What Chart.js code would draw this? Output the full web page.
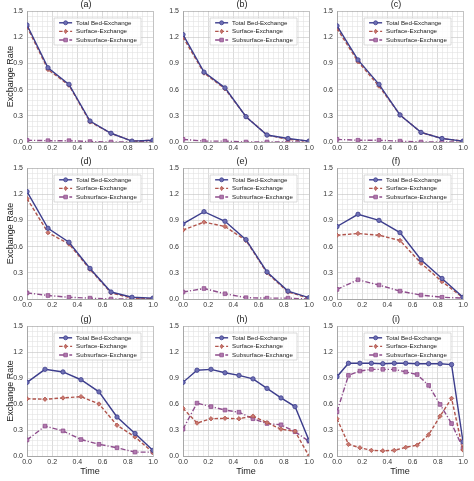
<!doctype html>
<html>
<head>
<meta charset="UTF-8">
<title>Exchange Rate</title>
<script src="https://cdn.jsdelivr.net/npm/chart.js"></script>
<style>
body { margin:0; background:#fff; width:474px; height:481px; overflow:hidden; position:relative; }
canvas { position:absolute; }
</style>
</head>
<body>
<canvas id="c0"></canvas><canvas id="c1"></canvas><canvas id="c2"></canvas>
<canvas id="c3"></canvas><canvas id="c4"></canvas><canvas id="c5"></canvas>
<canvas id="c6"></canvas><canvas id="c7"></canvas><canvas id="c8"></canvas>
<script>
// time steps (normalised)
var time7 = [0, 1/6, 2/6, 3/6, 4/6, 5/6, 1];
var time8 = [0, 1/7, 2/7, 3/7, 4/7, 5/7, 6/7, 1];
var time10 = [0, 1/9, 2/9, 3/9, 4/9, 5/9, 6/9, 7/9, 8/9, 1];
var time12 = [0, 1/11, 2/11, 3/11, 4/11, 5/11, 6/11, 7/11, 8/11, 9/11, 10/11, 1];

var seriesNames = ["Total Bed-Exchange", "Surface-Exchange", "Subsurface-Exchange"];
var panelTitles = ["(a)", "(b)", "(c)", "(d)", "(e)", "(f)", "(g)", "(h)", "(i)"];
var yTicks = [0.0, 0.3, 0.6, 0.9, 1.2, 1.5];
var xTicks = [0.0, 0.2, 0.4, 0.6, 0.8, 1.0];

var totalA = [1.34, 0.85, 0.66, 0.24, 0.10, 0.01, 0.02];
var surfaceA = [1.32, 0.83, 0.65, 0.23, 0.10, 0.01, 0.02];
var subsurfaceA = [0.02, 0.015, 0.015, 0.005, 0.00, 0.00, 0.01];

var totalB = [1.23, 0.80, 0.62, 0.29, 0.08, 0.04, 0.01];
var surfaceB = [1.20, 0.79, 0.61, 0.29, 0.08, 0.03, 0.01];
var subsurfaceB = [0.03, 0.01, 0.01, 0.00, 0.00, 0.00, 0.00];

var totalC = [1.33, 0.94, 0.66, 0.31, 0.11, 0.04, 0.01];
var surfaceC = [1.30, 0.92, 0.64, 0.31, 0.11, 0.04, 0.01];
var subsurfaceC = [0.03, 0.02, 0.02, 0.01, 0.00, 0.00, 0.00];

var totalD = [1.23, 0.81, 0.65, 0.35, 0.08, 0.02, 0.01];
var surfaceD = [1.15, 0.76, 0.63, 0.34, 0.07, 0.01, 0.00];
var subsurfaceD = [0.07, 0.04, 0.02, 0.01, 0.00, 0.00, 0.00];

var totalE = [0.86, 1.00, 0.89, 0.68, 0.31, 0.09, 0.015];
var surfaceE = [0.79, 0.88, 0.83, 0.67, 0.30, 0.08, 0.01];
var subsurfaceE = [0.08, 0.12, 0.06, 0.015, 0.01, 0.01, 0.00];

var totalF = [0.83, 0.97, 0.90, 0.76, 0.45, 0.235, 0.02];
var surfaceF = [0.73, 0.75, 0.73, 0.67, 0.41, 0.20, 0.015];
var subsurfaceF = [0.11, 0.22, 0.16, 0.09, 0.045, 0.02, 0.01];

var totalG = [0.85, 1.00, 0.97, 0.88, 0.74, 0.45, 0.26, 0.065];
var surfaceG = [0.66, 0.655, 0.67, 0.685, 0.60, 0.355, 0.22, 0.04];
var subsurfaceG = [0.185, 0.345, 0.29, 0.19, 0.135, 0.095, 0.045, 0.045];

var totalH = [0.85, 0.99, 1.00, 0.96, 0.93, 0.89, 0.78, 0.67, 0.57, 0.18];
var surfaceH = [0.55, 0.38, 0.43, 0.435, 0.43, 0.46, 0.385, 0.31, 0.285, 0.00];
var subsurfaceH = [0.31, 0.61, 0.57, 0.53, 0.505, 0.43, 0.375, 0.36, 0.28, 0.17];

var totalI = [0.915, 1.07, 1.07, 1.07, 1.065, 1.07, 1.07, 1.065, 1.065, 1.065, 1.055, 0.165];
var surfaceI = [0.43, 0.135, 0.095, 0.065, 0.06, 0.065, 0.10, 0.125, 0.245, 0.46, 0.665, 0.07];
var subsurfaceI = [0.51, 0.93, 0.98, 1.00, 1.00, 1.00, 0.97, 0.94, 0.815, 0.595, 0.375, 0.09];

var panels = [
  [time7, totalA, surfaceA, subsurfaceA],
  [time7, totalB, surfaceB, subsurfaceB],
  [time7, totalC, surfaceC, subsurfaceC],
  [time7, totalD, surfaceD, subsurfaceD],
  [time7, totalE, surfaceE, subsurfaceE],
  [time7, totalF, surfaceF, subsurfaceF],
  [time8, totalG, surfaceG, subsurfaceG],
  [time10, totalH, surfaceH, subsurfaceH],
  [time12, totalI, surfaceI, subsurfaceI]
];

var FONT = "'Liberation Sans', Arial, sans-serif";
var lineColors = ["#3c3d8c", "#b0544c", "#8e4d8c"];
var fillColors = ["#6f70b4", "#c9786f", "#b07aae"];
var dashes = [[], [3.5, 2], [5, 2, 1.2, 2]];
var markers = ["circle", "rectRot", "rect"];
var markerSize = [2.0, 2.0, 2.4];

// layout of the grid: columns and rows
var colLeft = [0, 156, 310];
var rowTop = [0, 154, 310];
var rowPadTop = [11, 14, 16];
var rowAxisH = [11, 11, 21];
var plotH = [131, 131, 130];
var axisW = 27, plotW = 126, padRight = 8;

function onTick(v, list) {
  for (var i = 0; i < list.length; i++) if (Math.abs(v - list[i]) < 1e-6) return true;
  return false;
}

function drawMarker(ctx, style, x, y, r) {
  ctx.beginPath();
  if (style == "circle") ctx.arc(x, y, r, 0, Math.PI * 2);
  else if (style == "rect") { var s = r * 0.75; ctx.rect(x - s, y - s, 2 * s, 2 * s); }
  else { ctx.moveTo(x, y - r * 1.1); ctx.lineTo(x + r * 0.7, y); ctx.lineTo(x, y + r * 1.1); ctx.lineTo(x - r * 0.7, y); ctx.closePath(); }
  ctx.fill(); ctx.stroke();
}

var panelDecor = {
  id: "panelDecor",
  afterDatasetsDraw: function(chart, args, opts) {
    var ctx = chart.ctx, a = chart.chartArea;
    ctx.save();
    // panel title
    ctx.fillStyle = "#222";
    ctx.font = "9px " + FONT;
    ctx.textAlign = "center";
    ctx.textBaseline = "middle";
    ctx.fillText(opts.title, (a.left + a.right) / 2 - 4, a.top - 6);
    // legend box
    ctx.font = "6.2px " + FONT;
    var tw = 0;
    seriesNames.forEach(function(n) { tw = Math.max(tw, ctx.measureText(n).width); });
    var bw = tw + 26, bh = 27;
    var bx = a.right - 12 - bw, by = a.top + 7;
    ctx.fillStyle = "rgba(255,255,255,0.85)";
    ctx.strokeStyle = "#cccccc";
    ctx.lineWidth = 0.7;
    ctx.beginPath();
    ctx.rect(bx, by, bw, bh);
    ctx.fill(); ctx.stroke();
    for (var i = 0; i < 3; i++) {
      var ly = by + 4.8 + i * 8.6;
      ctx.strokeStyle = lineColors[i];
      ctx.lineWidth = 1.4;
      ctx.setLineDash(dashes[i]);
      ctx.beginPath();
      ctx.moveTo(bx + 5, ly); ctx.lineTo(bx + 18, ly);
      ctx.stroke();
      ctx.setLineDash([]);
      ctx.fillStyle = fillColors[i];
      ctx.lineWidth = 0.8;
      drawMarker(ctx, markers[i], bx + 11.5, ly, markerSize[i]);
      ctx.fillStyle = "#222";
      ctx.textAlign = "left";
      ctx.fillText(seriesNames[i], bx + 22, ly + 0.3);
    }
    ctx.restore();
  }
};

function gridColor(ctx, majors, max) {
  var v = ctx.tick ? ctx.tick.value : 0;
  if (Math.abs(v - max) < 1e-6) return "#9a9a9a";
  return onTick(v, majors) ? "#c2c2c2" : "#e2e2e2";
}

panels.forEach(function(p, k) {
  var row = Math.floor(k / 3), col = k % 3;
  var cv = document.getElementById("c" + k);
  var w = axisW + plotW + padRight;
  var h = rowPadTop[row] + plotH[row] + rowAxisH[row];
  cv.width = w; cv.height = h;
  cv.style.left = colLeft[col] + "px";
  cv.style.top = rowTop[row] + "px";

  var datasets = [1, 2, 3].map(function(j) {
    var i = j - 1;
    return {
      label: seriesNames[i],
      data: p[0].map(function(t, n) { return { x: t, y: p[j][n] }; }),
      borderColor: lineColors[i],
      backgroundColor: fillColors[i],
      borderWidth: 1.4,
      borderDash: dashes[i],
      pointStyle: markers[i],
      pointRadius: markerSize[i] + 0.2,
      pointBorderWidth: 0.8,
      pointBorderColor: lineColors[i],
      pointBackgroundColor: fillColors[i],
      tension: 0
    };
  });

  new Chart(cv.getContext("2d"), {
    type: "line",
    data: { datasets: datasets },
    options: {
      responsive: false,
      animation: false,
      layout: { padding: { top: rowPadTop[row], right: padRight, left: 0, bottom: 0 } },
      plugins: {
        legend: { display: false },
        tooltip: { enabled: false },
        panelDecor: { title: panelTitles[k] }
      },
      scales: {
        x: {
          type: "linear", min: 0, max: 1,
          ticks: {
            stepSize: 0.04, autoSkip: false, maxRotation: 0, padding: 2,
            color: "#333", font: { family: FONT, size: 7 },
            callback: function(v) { return onTick(v, xTicks) ? v.toFixed(1) : ""; }
          },
          grid: { drawTicks: false, lineWidth: 0.6, color: function(c) { return gridColor(c, xTicks, 1); } },
          border: { color: "#9a9a9a", width: 0.8 },
          title: { display: row == 2, text: "Time", color: "#222", padding: 0, font: { family: FONT, size: 9 } },
          afterFit: function(s) { s.height = rowAxisH[row]; }
        },
        y: {
          min: 0, max: 1.5,
          ticks: {
            stepSize: 0.06, autoSkip: false, padding: 4,
            color: "#333", font: { family: FONT, size: 7 },
            callback: function(v) { return onTick(v, yTicks) ? v.toFixed(1) : ""; }
          },
          grid: { drawTicks: false, lineWidth: 0.6, color: function(c) { return gridColor(c, yTicks, 1.5); } },
          border: { color: "#9a9a9a", width: 0.8 },
          title: { display: col == 0, text: "Exchange Rate", color: "#222", padding: { top: 5 }, font: { family: FONT, size: 9 } },
          afterFit: function(s) { s.width = axisW; }
        }
      }
    },
    plugins: [panelDecor]
  });
});
</script>
</body>
</html>
